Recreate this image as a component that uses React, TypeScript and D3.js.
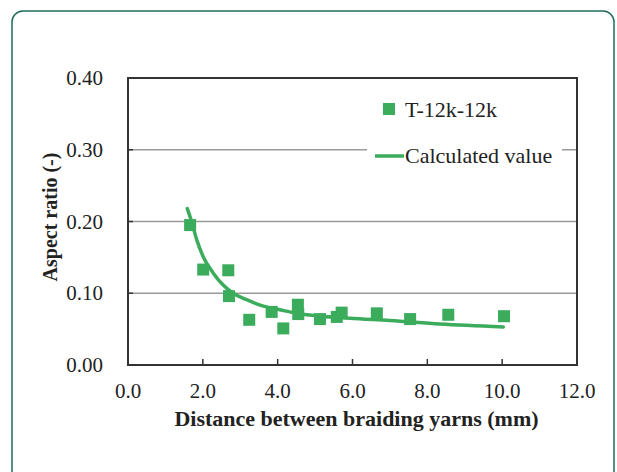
import React from "react";
import * as d3 from "d3";

// measured points, series T-12k-12k
const measuredX = [1.66, 2.01, 2.68, 2.70, 3.24, 3.84, 4.15, 4.54, 4.55, 5.13, 5.58, 5.71, 6.65, 7.54, 8.56, 10.05];
const measuredY = [0.195, 0.133, 0.132, 0.096, 0.063, 0.074, 0.051, 0.084, 0.071, 0.064, 0.067, 0.073, 0.072, 0.064, 0.070, 0.068];

// calculated value curve
const calcX = [1.585, 1.70, 1.84, 2.01, 2.28, 2.55, 2.81, 3.17, 3.62, 4.06, 4.51, 5.93, 7.0, 8.34, 10.03];
const calcY = [0.218, 0.200, 0.174, 0.151, 0.128, 0.111, 0.100, 0.091, 0.082, 0.077, 0.072, 0.065, 0.062, 0.057, 0.053];

const xTicks = [0, 2, 4, 6, 8, 10, 12];
const yTicks = [0, 0.1, 0.2, 0.3, 0.4];

const green = "#3bab5c";
const font = "Liberation Serif, DejaVu Serif, serif";

export default function App() {
  const width = 617;
  const height = 472;
  const margin = { left: 128, right: 40, top: 78, bottom: 107 };

  const x = d3.scaleLinear().domain([0, 12]).range([margin.left, width - margin.right]);
  const y = d3.scaleLinear().domain([0, 0.4]).range([height - margin.bottom, margin.top]);

  const line = d3
    .line<number>()
    .x((d, i) => x(calcX[i]))
    .y((d) => y(d))
    .curve(d3.curveMonotoneX);

  const x0 = x(0);
  const x1 = x(12);
  const y0 = y(0);
  const y1 = y(0.4);
  const sq = 12;

  return (
    <svg
      width={width}
      height={height}
      style={{ position: "absolute", left: 0, top: 0, background: "#fff", fontFamily: font }}
    >
      <rect x={12} y={11} width={602} height={480} rx={11} fill="#fff" stroke="#1f6b5b" strokeWidth={1.5} />

      {/* gridlines */}
      {yTicks.slice(1, 4).map((t) => (
        <line key={t} x1={x0} x2={x1} y1={y(t)} y2={y(t)} stroke="#9a9a9a" strokeWidth={1.5} />
      ))}
      {yTicks.slice(1, 4).map((t) => (
        <line key={"yt" + t} x1={x0} x2={x0 + 5} y1={y(t)} y2={y(t)} stroke="#333" strokeWidth={1.5} />
      ))}
      {xTicks.slice(1, 6).map((t) => (
        <line key={"xt" + t} x1={x(t)} x2={x(t)} y1={y0} y2={y0 - 6} stroke="#333" strokeWidth={1.5} />
      ))}

      {/* legend background */}
      <rect x={367} y={95} width={195} height={75} fill="#fff" />

      {/* frame */}
      <rect x={x0} y={y1} width={x1 - x0} height={y0 - y1} fill="none" stroke="#333" strokeWidth={2} />

      {/* calculated curve */}
      <path d={line(calcY) || ""} fill="none" stroke={green} strokeWidth={3.5} strokeLinecap="round" />

      {/* measured points */}
      {measuredY.map((v, i) => (
        <rect key={i} x={x(measuredX[i]) - sq / 2} y={y(v) - sq / 2} width={sq} height={sq} fill={green} />
      ))}

      {/* tick labels */}
      {xTicks.map((t) => (
        <text key={"xl" + t} x={x(t)} y={398} textAnchor="middle" fontSize={21} fill="#222" style={{ fontFamily: font }}>
          {t.toFixed(1)}
        </text>
      ))}
      {yTicks.map((t) => (
        <text key={"yl" + t} x={103} y={y(t) + 7} textAnchor="end" fontSize={21} fill="#222" style={{ fontFamily: font }}>
          {t.toFixed(2)}
        </text>
      ))}

      {/* axis titles */}
      <text
        x={(x0 + x1) / 2 + 4}
        y={426}
        textAnchor="middle"
        fontSize={22}
        fontWeight="bold"
        fill="#222"
        style={{ fontFamily: font }}
      >
        Distance between braiding yarns (mm)
      </text>
      <text
        transform={`translate(57,217) rotate(-90)`}
        textAnchor="middle"
        fontSize={20}
        fontWeight="bold"
        fill="#222"
        style={{ fontFamily: font }}
      >
        Aspect ratio (-)
      </text>

      {/* legend */}
      <rect x={383} y={103} width={12} height={12} fill={green} />
      <text x={405} y={117} fontSize={22} fill="#222" style={{ fontFamily: font }}>
        T-12k-12k
      </text>
      <line x1={375} x2={404} y1={156} y2={156} stroke={green} strokeWidth={3.5} />
      <text x={405} y={163} fontSize={22} fill="#222" style={{ fontFamily: font }}>
        Calculated value
      </text>
    </svg>
  );
}
